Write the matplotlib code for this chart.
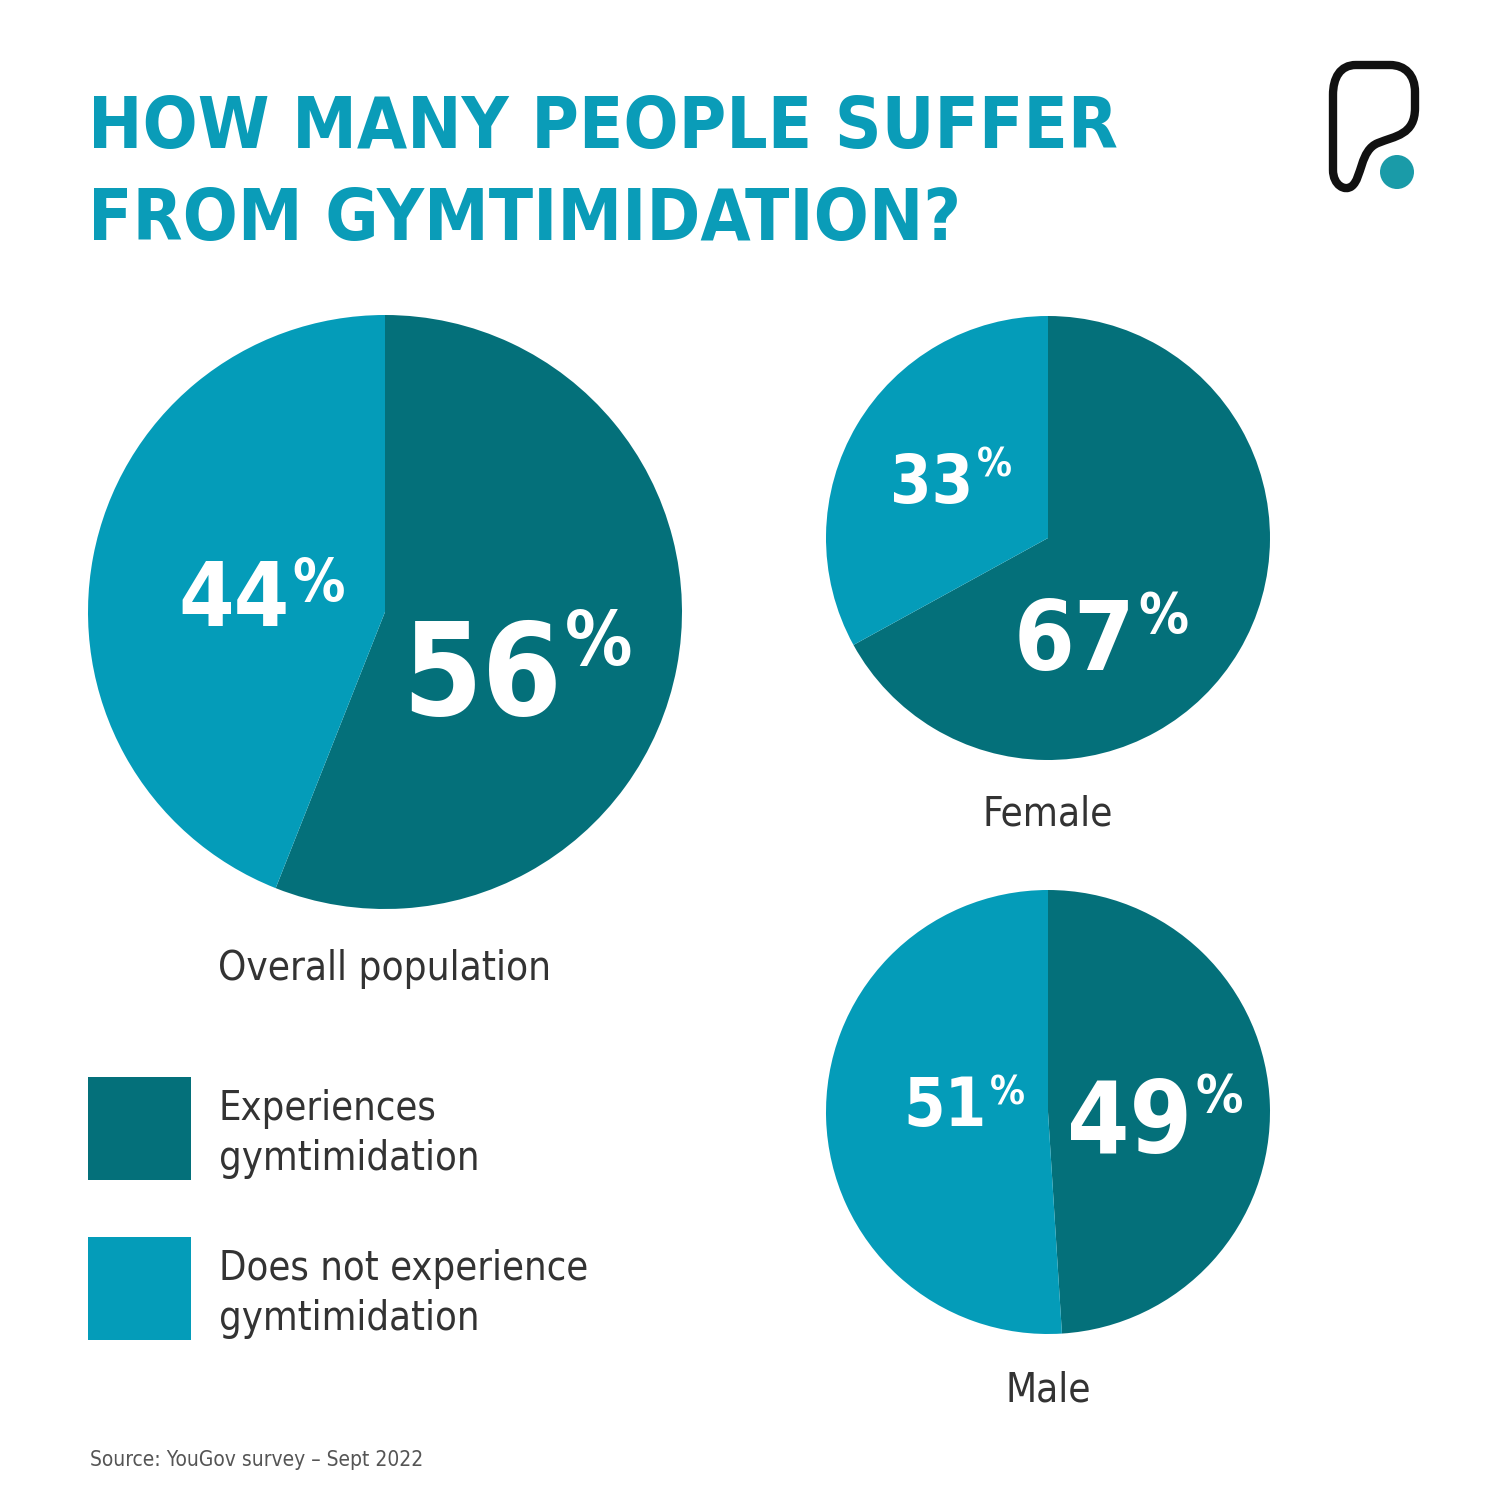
import os
import matplotlib
matplotlib.use("Agg")
import matplotlib.pyplot as plt
from matplotlib import font_manager as fm
from matplotlib.path import Path
from matplotlib.patches import PathPatch, Circle, Rectangle

# ---------------- data ----------------
TITLE_LINES = ["HOW MANY PEOPLE SUFFER", "FROM GYMTIMIDATION?"]
CATEGORIES = ["Experiences\ngymtimidation", "Does not experience\ngymtimidation"]
GROUPS = ["Overall population", "Female", "Male"]
EXPERIENCES = [56, 67, 49]
DOES_NOT = [44, 33, 51]
SOURCE = "Source: YouGov survey \u2013 Sept 2022"

DARK = "#04707A"
LIGHT = "#049CB9"
TITLE_C = "#0A9CB8"
TEXT_C = "#333333"

# ---------------- fonts ----------------
_files = {}
for f in fm.fontManager.ttflist:
    base = os.path.splitext(os.path.basename(f.fname))[0]
    _files.setdefault(base, f.fname)


def pick(cands, fallback_kw):
    for c in cands:
        if c in _files:
            return fm.FontProperties(fname=_files[c])
    return fm.FontProperties(**fallback_kw)


BOLD = pick(["DejaVuSansCondensed-Bold", "LiberationSansNarrow-Bold"],
            dict(family="DejaVu Sans", stretch="condensed", weight="bold"))
REG = pick(["DejaVuSansCondensed", "LiberationSansNarrow-Regular"],
           dict(family="DejaVu Sans", stretch="condensed"))

W = H = 1500
fig = plt.figure(figsize=(15, 15), dpi=100)
fig.patch.set_facecolor("white")

# pie geometry (centre x, centre y, radius) in pixels from top-left
PIES = [(385, 612, 297), (1048, 538, 222), (1048, 1112, 222)]

for (cx, cy, r), e, d in zip(PIES, EXPERIENCES, DOES_NOT):
    ax = fig.add_axes([(cx - r) / W, 1 - (cy + r) / H, 2 * r / W, 2 * r / H])
    ax.pie([e, d], colors=[DARK, LIGHT], startangle=90, counterclock=False,
           radius=1, wedgeprops=dict(linewidth=0))
    ax.set_xlim(-1, 1)
    ax.set_ylim(-1, 1)
    ax.set_aspect("equal")
    ax.axis("off")

# overlay axes in pixel coordinates
ov = fig.add_axes([0, 0, 1, 1])
ov.set_xlim(0, W)
ov.set_ylim(H, 0)
ov.axis("off")
ov.set_facecolor("none")


def T(x, y, s, fp, size, **kw):
    p = fp.copy()
    p.set_size(size)
    return ov.text(x, y, s, fontproperties=p, **kw)


def cap_baseline(center_y, size):
    # baseline so that cap height is centred on center_y
    return center_y + 0.5 * 0.73 * size * 100 / 72


# title
T(88, 148, TITLE_LINES[0], BOLD, 52, color=TITLE_C, ha="left", va="baseline")
T(88, 240, TITLE_LINES[1], BOLD, 52, color=TITLE_C, ha="left", va="baseline")

# percentage labels: (group centre x, digits centre y, digits size,
#                     % centre y, % size, value)
LABELS = [
    (262, 594, 64, 580, 42, DOES_NOT[0]),
    (517, 668, 92, 638, 54, EXPERIENCES[0]),
    (951, 479, 48, 462, 28, DOES_NOT[1]),
    (1101, 635, 70, 612, 40, EXPERIENCES[1]),
    (964, 1102, 48, 1090, 28, DOES_NOT[2]),
    (1155, 1116, 72, 1094, 38, EXPERIENCES[2]),
]
renderer = fig.canvas.get_renderer()
for gx, dcy, fs, pcy, pfs, val in LABELS:
    t1 = T(0, cap_baseline(dcy, fs), f"{val}", BOLD, fs, color="white",
           ha="left", va="baseline")
    t2 = T(0, cap_baseline(pcy, pfs), "%", BOLD, pfs, color="white",
           ha="left", va="baseline")
    w1 = t1.get_window_extent(renderer).width
    w2 = t2.get_window_extent(renderer).width
    gap = 3
    left = gx - (w1 + gap + w2) / 2
    t1.set_x(left)
    t2.set_x(left + w1 + gap)

# group labels
T(385, 980, GROUPS[0], REG, 29, color=TEXT_C, ha="center", va="baseline")
T(1048, 825, GROUPS[1], REG, 29, color=TEXT_C, ha="center", va="baseline")
T(1048, 1401, GROUPS[2], REG, 29, color=TEXT_C, ha="center", va="baseline")

# legend
for (top, col, lab) in [(1077, DARK, CATEGORIES[0]), (1237, LIGHT, CATEGORIES[1])]:
    ov.add_patch(Rectangle((88, top), 103, 103, facecolor=col, edgecolor="none"))
    l1, l2 = lab.split("\n")
    T(219, top + 43, l1, REG, 28.5, color=TEXT_C, ha="left", va="baseline")
    T(219, top + 93, l2, REG, 28.5, color=TEXT_C, ha="left", va="baseline")

# source
T(90, 1466, SOURCE, REG, 15, color="#555555", ha="left", va="baseline")

# logo
verts = [
    (1333, 110),
    (1333, 170),
    (1333, 185), (1345, 192), (1352, 186),
    (1362, 178), (1360, 150), (1378, 143),
    (1395, 136), (1415, 135), (1415, 108),
    (1415, 92),
    (1415, 75), (1405, 65), (1390, 65),
    (1356, 65),
    (1340, 65), (1333, 78), (1333, 95),
    (1333, 110),
]
codes = [Path.MOVETO, Path.LINETO,
         Path.CURVE4, Path.CURVE4, Path.CURVE4,
         Path.CURVE4, Path.CURVE4, Path.CURVE4,
         Path.CURVE4, Path.CURVE4, Path.CURVE4,
         Path.LINETO,
         Path.CURVE4, Path.CURVE4, Path.CURVE4,
         Path.LINETO,
         Path.CURVE4, Path.CURVE4, Path.CURVE4,
         Path.CLOSEPOLY]
ov.add_patch(PathPatch(Path(verts, codes), facecolor="none", edgecolor="#111111",
                       linewidth=6, joinstyle="round", capstyle="round"))
ov.add_patch(Circle((1397, 172), 17, facecolor="#1A9BA8", edgecolor="none"))

fig.savefig("out.png", dpi=100, facecolor="white")
